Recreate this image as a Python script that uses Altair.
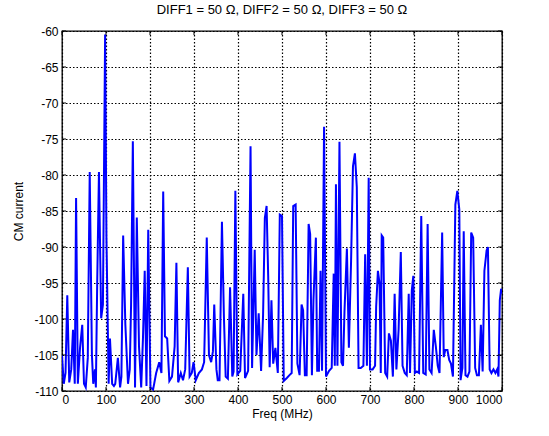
import altair as alt
import pandas as pd

freq = [0, 4, 8, 12, 16.5, 21, 25, 29, 32, 36, 41, 46, 50, 54, 58.6, 63, 68, 71, 75, 77,
        80, 84, 89, 93, 98, 101, 106, 109, 114, 118, 121, 127, 132, 135, 139, 144, 150, 154, 157, 161,
        166, 170, 175, 180, 184, 188, 192, 196, 201, 207, 214, 221, 226, 230, 234, 239, 244, 250, 256, 260,
        264, 270, 275, 280, 286, 290, 295, 299, 304, 311, 318, 323, 329, 334, 339, 343, 346, 351, 354, 358,
        363.5, 368, 372, 377, 382, 387, 390, 394, 398.5, 405, 412, 416, 423, 428.5, 432, 438, 442, 447, 452.5, 457,
        461, 465, 468.6, 472, 476, 480, 485, 490.5, 495, 500, 504, 511, 517, 522, 525.5, 531, 535, 540, 544.5, 548,
        552, 556, 560.5, 564, 568, 571.5, 577, 580, 584, 587.6, 591, 595.6, 600, 607, 613, 617.5, 620, 622.6, 626, 630.6,
        635, 638.7, 642, 647.5, 652, 657, 661.3, 665.7, 670, 674, 679, 685, 689, 693, 697, 700, 706, 711.5, 714, 718,
        721.6, 724.5, 726.6, 730, 734.5, 739, 743, 747.5, 752, 756, 760, 765, 770, 774, 779, 783.5, 788, 791, 795, 798.5,
        802, 806.5, 811.5, 816.5, 821, 826.6, 831, 835, 840, 845, 849.6, 854, 858, 864, 867.6, 871, 876, 880, 884, 888.5,
        894, 898.5, 903, 905.8, 910, 913, 917, 921.6, 926, 930, 934.5, 939, 943, 947.5, 952, 956, 960, 965, 968, 972,
        976, 980.6, 985, 989, 992, 995, 998, 1000]

cm_current = [-105, -109, -107.5, -96.7, -108.8, -107, -101.5, -109, -83.2, -109, -104, -100.8, -109, -109.5, -105.4, -79.6, -105, -109, -107, -109.5,
              -95, -79.6, -99.9, -98, -60.5, -88.7, -109, -102.7, -109, -109.3, -109, -105.4, -109.5, -108, -88.4, -100.8, -109, -107, -98, -75.3,
              -109.5, -85.9, -103.8, -109.5, -102.7, -93.3, -109.3, -87.6, -109.5, -109.8, -107.5, -106, -107.5, -82.3, -102.4, -102.7, -108.6, -108, -103.8, -92.2,
              -108.8, -107.5, -108.5, -107, -92.8, -108, -107.5, -106, -108.5, -107.5, -107, -106, -88.7, -105, -106, -104.5, -98, -107, -108.5, -108.5,
              -86.5, -99.7, -108, -108.3, -95.6, -108, -107.3, -82.2, -107.7, -107.2, -96.5, -108.2, -107.2, -76, -106.8, -90.4, -105, -99.2, -107.2, -99.4,
              -86, -84.3, -94, -106.7, -97.4, -106.2, -104, -107.5, -85.5, -85.7, -108.6, -108.2, -107.8, -107.5, -84.3, -84.1, -106.2, -107.8, -98, -98.8,
              -107.8, -107.8, -86.8, -88.2, -107.8, -97.4, -88.7, -107.2, -107.2, -93.3, -107.2, -73.3, -108, -107.2, -106.8, -93.7, -106.5, -81.3, -106.5, -75.4,
              -106, -106.5, -99, -90.2, -104, -91.9, -78.8, -77, -81.7, -106.8, -106.8, -106.5, -91, -106.5, -80.4, -107, -107, -106.5, -98.3, -93.3,
              -95, -107.5, -88.4, -88.7, -107.5, -108, -102, -103, -108, -96.5, -107, -101.5, -90.7, -106.5, -107.5, -107.8, -96.5, -107.5, -96, -94,
              -107.5, -107.3, -107.5, -85.7, -107.5, -107.7, -86.8, -107, -107.5, -101.5, -103.8, -106.5, -107.5, -88, -105.3, -104.3, -104.3, -105.7, -106.2, -108,
              -84.1, -82.2, -84.8, -108.5, -106.8, -87.8, -107.8, -108, -107.3, -88, -88.7, -106.8, -107.8, -107.8, -100.8, -107.3, -93.3, -90.5, -90, -107,
              -107.5, -107, -107.5, -107, -108, -97.4, -95.8, -96.5]

x_ticks = [0, 100, 200, 300, 400, 500, 600, 700, 800, 900, 1000]
y_ticks = [-60, -65, -70, -75, -80, -85, -90, -95, -100, -105, -110]

title_text = "DIFF1 = 50 \u03a9, DIFF2 = 50 \u03a9, DIFF3 = 50 \u03a9"

FONT = "Liberation Sans"
W, H = 440, 360

df = pd.DataFrame({"freq": freq, "cm": cm_current})
xt = pd.DataFrame({"v": x_ticks})
yt = pd.DataFrame({"v": y_ticks})

xscale = alt.Scale(domain=[0, 1000], nice=False, zero=False)
yscale = alt.Scale(domain=[-110, -60], nice=False, zero=False)

axis_common = dict(grid=True, ticks=False, domain=False, labelOverlap=False,
                   labelExpr="'' + datum.value",
                   labelFont=FONT, titleFont=FONT, labelFontSize=12, titleFontSize=12,
                   labelColor="black", titleColor="black", titleFontWeight="normal",
                   gridColor="black", gridOpacity=1, gridDash=[1.5, 2], gridWidth=1.2)

x_axis = alt.Axis(title="Freq (MHz)", values=x_ticks, labelPadding=3, titlePadding=3, **axis_common)
y_axis = alt.Axis(title="CM current", values=y_ticks, labelPadding=4, titlePadding=8, **axis_common)

line = alt.Chart(df).mark_line(color="#0000FF", strokeWidth=2, clip=True).encode(
    x=alt.X("freq:Q", scale=xscale, axis=x_axis),
    y=alt.Y("cm:Q", scale=yscale, axis=y_axis),
)

xtick_b = alt.Chart(xt).mark_rule(color="black", strokeWidth=1).encode(
    x=alt.X("v:Q", scale=xscale, axis=x_axis), y=alt.value(H), y2=alt.value(H - 4))
xtick_t = alt.Chart(xt).mark_rule(color="black", strokeWidth=1).encode(
    x=alt.X("v:Q", scale=xscale, axis=x_axis), y=alt.value(0), y2=alt.value(4))
ytick_l = alt.Chart(yt).mark_rule(color="black", strokeWidth=1).encode(
    y=alt.Y("v:Q", scale=yscale, axis=y_axis), x=alt.value(0), x2=alt.value(4))
ytick_r = alt.Chart(yt).mark_rule(color="black", strokeWidth=1).encode(
    y=alt.Y("v:Q", scale=yscale, axis=y_axis), x=alt.value(W), x2=alt.value(W - 4))

chart = alt.layer(line, xtick_b, xtick_t, ytick_l, ytick_r).properties(
    width=W, height=H,
    background="white",
    title=alt.TitleParams(title_text, font=FONT, fontSize=13, fontWeight="normal",
                          color="black", offset=8),
    autosize=alt.AutoSizeParams(type="none"),
    padding={"left": 62, "top": 31, "right": 47, "bottom": 45},
).configure_view(
    stroke="black", strokeWidth=1.3
)

chart.save("out.html", embed_options={"renderer": "svg", "actions": False})
